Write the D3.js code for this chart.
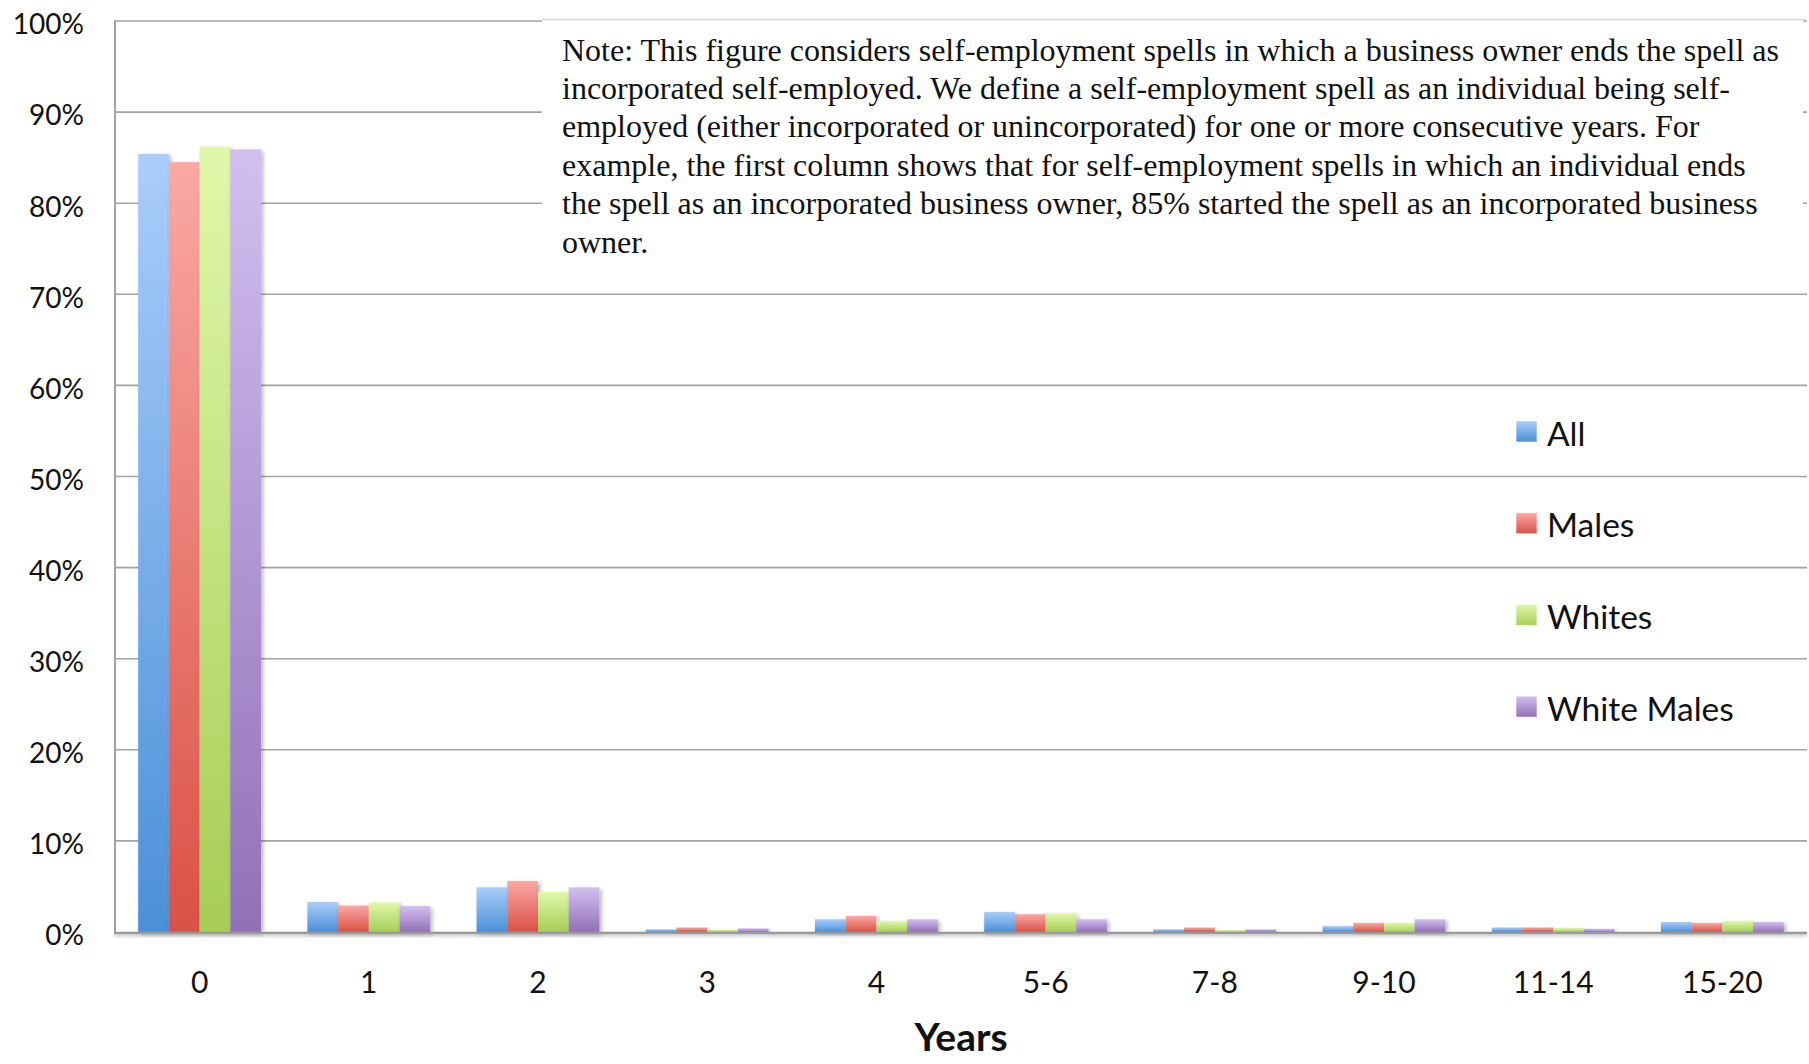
<!DOCTYPE html>
<html>
<head>
<meta charset="utf-8">
<script src="https://cdn.jsdelivr.net/npm/d3@7"></script>
<style>
  html, body { margin: 0; padding: 0; background: #fff; }
  svg { display: block; }
</style>
</head>
<body>
<svg id="chart" width="1809" height="1064"></svg>
<script>
// ---- data ----
const categories = ["0", "1", "2", "3", "4", "5-6", "7-8", "9-10", "11-14", "15-20"];
const seriesNames = ["All", "Males", "Whites", "White Males"];
const allValues = [85.4, 3.3, 4.9, 0.3, 1.4, 2.2, 0.3, 0.65, 0.5, 1.1];
const malesValues = [84.5, 2.9, 5.6, 0.5, 1.75, 1.95, 0.5, 1.0, 0.5, 1.0];
const whitesValues = [86.2, 3.25, 4.4, 0.25, 1.2, 2.05, 0.2, 1.0, 0.45, 1.2];
const whiteMalesValues = [85.9, 2.85, 4.9, 0.4, 1.4, 1.4, 0.3, 1.4, 0.35, 1.1];
const yTicks = [0, 10, 20, 30, 40, 50, 60, 70, 80, 90, 100];
const xTitle = "Years";
const noteLines = [
  "Note: This figure considers self-employment spells in which a business owner ends the spell as",
  "incorporated self-employed. We define a self-employment spell as an individual being self-",
  "employed (either incorporated or unincorporated) for one or more consecutive years. For",
  "example, the first column shows that for self-employment spells in which an individual ends",
  "the spell as an incorporated business owner, 85% started the spell as an incorporated business",
  "owner."
];

const seriesValues = [allValues, malesValues, whitesValues, whiteMalesValues];
const colorsTop = ["#aacdfb", "#faa8a3", "#e0f8aa", "#d2bff0"];
const colorsBottom = ["#4b90d8", "#da5146", "#a7cd57", "#9170b8"];

// ---- layout ----
const svg = d3.select("#chart");
const plotLeft = 115, plotRight = 1807, plotTop = 21, plotBottom = 932;

const x = d3.scaleBand().domain(categories).range([plotLeft, plotRight]).padding(0);
const xs = d3.scaleBand().domain(seriesNames)
  .range([x.bandwidth() * 0.137, x.bandwidth() * 0.863]).padding(0);
const y = d3.scaleLinear().domain([0, 100]).range([plotBottom, plotTop]);

const defs = svg.append("defs");
seriesNames.forEach((s, i) => {
  const g = defs.append("linearGradient").attr("id", "grad" + i)
    .attr("x1", 0).attr("y1", 0).attr("x2", 0).attr("y2", 1);
  g.append("stop").attr("offset", "0%").attr("stop-color", colorsTop[i]);
  g.append("stop").attr("offset", "100%").attr("stop-color", colorsBottom[i]);
});
const f = defs.append("filter").attr("id", "shadow")
  .attr("x", "-20%").attr("y", "-5%").attr("width", "150%").attr("height", "130%");
f.append("feDropShadow").attr("dx", 2).attr("dy", 2).attr("stdDeviation", 2)
  .attr("flood-color", "#000").attr("flood-opacity", 0.3);
const fl = defs.append("filter").attr("id", "lshadow")
  .attr("filterUnits", "userSpaceOnUse")
  .attr("x", 100).attr("y", 920).attr("width", 1720).attr("height", 30);
fl.append("feDropShadow").attr("dx", 0).attr("dy", 2).attr("stdDeviation", 1.5)
  .attr("flood-color", "#000").attr("flood-opacity", 0.25);

// gridlines
svg.append("g").selectAll("line").data(yTicks.filter(d => d > 0)).join("line")
  .attr("x1", plotLeft).attr("x2", plotRight)
  .attr("y1", d => y(d)).attr("y2", d => y(d))
  .attr("stroke", "#a3a3a3").attr("stroke-width", 1.6);

// y axis line
svg.append("line").attr("x1", plotLeft).attr("x2", plotLeft).attr("y1", y(100) - 0.8).attr("y2", plotBottom)
  .attr("stroke", "#a3a3a3").attr("stroke-width", 2);

// y tick labels
const yAxis = d3.axisLeft(y).tickValues(yTicks).tickFormat(d => d + "%").tickSize(0).tickPadding(0);
const yg = svg.append("g").attr("transform", `translate(84,0)`).call(yAxis);
yg.select(".domain").remove();
yg.selectAll("text").attr("font-family", "Lato, 'Open Sans', sans-serif")
  .attr("font-size", 28).attr("fill", "#111").attr("dy", "0.46em");

// bars
const groups = svg.append("g").selectAll("g").data(categories).join("g")
  .attr("transform", d => `translate(${x(d)},0)`);
groups.selectAll("rect")
  .data((c, ci) => seriesNames.map((s, si) => ({ s, si, v: seriesValues[si][ci] })))
  .join("rect")
  .attr("x", d => xs(d.s))
  .attr("width", xs.bandwidth())
  .attr("y", d => y(d.v))
  .attr("height", d => plotBottom - y(d.v))
  .attr("fill", d => `url(#grad${d.si})`)
  .attr("filter", "url(#shadow)");

// x axis baseline
svg.append("line").attr("x1", plotLeft - 1).attr("x2", plotRight).attr("y1", plotBottom + 1).attr("y2", plotBottom + 1)
  .attr("stroke", "#9a9a9a").attr("stroke-width", 2.5).attr("filter", "url(#lshadow)");

// x labels
const xAxis = d3.axisBottom(x).tickSize(0).tickPadding(0);
const xg = svg.append("g").attr("transform", `translate(0,${plotBottom})`).call(xAxis);
xg.select(".domain").remove();
xg.selectAll("text").attr("font-family", "Lato, 'Open Sans', sans-serif")
  .attr("font-size", 30).attr("fill", "#111").attr("dy", null).attr("y", 61);

// x title
svg.append("text").attr("x", (plotLeft + plotRight) / 2).attr("y", 1051)
  .attr("text-anchor", "middle").attr("font-family", "Lato, 'Open Sans', sans-serif")
  .attr("font-weight", "bold").attr("font-size", 39).attr("fill", "#111").text(xTitle);

// note box
svg.append("rect").attr("x", 542).attr("y", 19).attr("width", 1261).attr("height", 266)
  .attr("fill", "#fff");
svg.append("line").attr("x1", 542).attr("x2", 1806).attr("y1", 19.5).attr("y2", 19.5)
  .attr("stroke", "#d6d6d6").attr("stroke-width", 1.5);
svg.append("g").selectAll("text").data(noteLines).join("text")
  .attr("x", 562).attr("y", (d, i) => 60.5 + i * 38.4)
  .attr("font-family", "'Liberation Serif', 'Times New Roman', serif")
  .attr("font-size", 32).attr("fill", "#111").text(d => d);

// legend
const lg = svg.append("g").selectAll("g").data(seriesNames).join("g")
  .attr("transform", (d, i) => `translate(1516,${421 + i * 91.7})`);
lg.append("rect").attr("width", 21).attr("height", 21)
  .attr("fill", (d, i) => `url(#grad${i})`).attr("stroke", "rgba(255,255,255,0.6)").attr("stroke-width", 1);
lg.append("text").attr("x", 31).attr("y", 24.7)
  .attr("font-family", "Lato, 'Open Sans', sans-serif").attr("font-size", 33.5)
  .attr("fill", "#111").text(d => d);
</script>
</body>
</html>
